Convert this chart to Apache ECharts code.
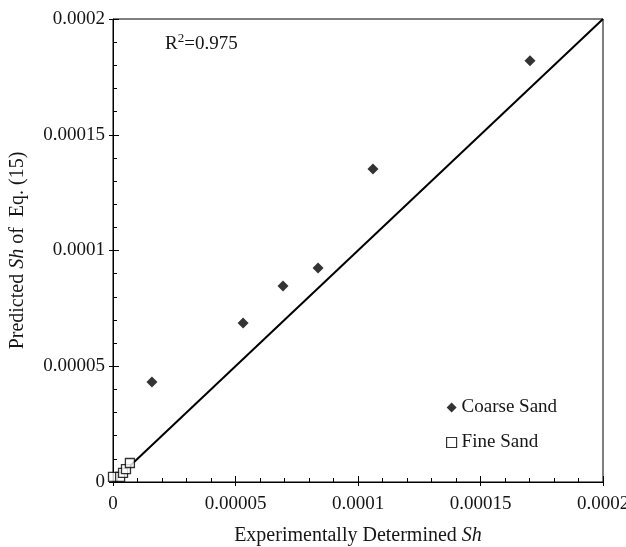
<!DOCTYPE html>
<html lang="en">
<head>
    <meta charset="UTF-8">
    <title>Predicted vs Experimental Sh</title>
    <script src="https://cdn.jsdelivr.net/npm/echarts@6.0.0/dist/echarts.min.js"></script>
    <style>
        html, body { margin: 0; padding: 0; background: #fff; }
        #chart { width: 626px; height: 547px; }
    </style>
</head>
<body>
    <div id="chart"></div>
    <script>
        // data
        const coarseX = [0.0000159, 0.0000531, 0.0000694, 0.0000837, 0.0001061, 0.0001702];
        const coarseY = [0.0000432, 0.0000687, 0.0000847, 0.0000924, 0.0001352, 0.0001820];
        const fineX = [0.0000000, 0.0000029, 0.0000041, 0.0000053, 0.0000069];
        const fineY = [0.0000022, 0.0000022, 0.0000039, 0.0000056, 0.0000082];
        const fitX = [0.000007, 0.0002];
        const fitY = [0.000007, 0.0002];

        const font = '"Liberation Serif", "DejaVu Serif", serif';
        const ink = '#151515';
        const fmt = v => String(+v.toFixed(6));

        const pairs = (xs, ys) => xs.map((x, i) => [x, ys[i]]);

        const chart = echarts.init(document.getElementById('chart'));

        const baseAxis = {
            type: 'value',
            min: 0,
            max: 0.0002,
            interval: 0.00005,
            splitLine: { show: false },
            axisLine: { lineStyle: { color: '#000', width: 1 } }
        };

        const nameRich = {
            a: { fontFamily: font, fontSize: 20, color: ink },
            b: { fontFamily: font, fontSize: 20, color: ink, fontStyle: 'italic' }
        };

        chart.setOption({
            animation: false,
            grid: {
                left: 113, right: 23, top: 19, bottom: 65,
                outerBoundsMode: 'none',
                containLabel: false,
                show: true, borderColor: '#000', borderWidth: 1
            },
            xAxis: [
                Object.assign({}, baseAxis, {
                    position: 'bottom',
                    axisTick: { inside: true, length: 6, lineStyle: { color: '#000' } },
                    minorTick: { show: true, splitNumber: 5, length: 4, lineStyle: { color: '#000' } },
                    axisLabel: { formatter: fmt, color: ink, fontFamily: font, fontSize: 19, margin: 13 },
                    name: '{a|Experimentally Determined }{b|Sh}',
                    nameLocation: 'middle',
                    nameGap: 44,
                    nameTextStyle: { rich: nameRich }
                }),
                Object.assign({}, baseAxis, {
                    position: 'bottom',
                    axisLine: { show: false },
                    axisTick: { inside: false, length: 4, lineStyle: { color: '#000' } },
                    axisLabel: { show: false }
                })
            ],
            yAxis: [
                Object.assign({}, baseAxis, {
                    position: 'left',
                    axisTick: { inside: true, length: 6, lineStyle: { color: '#000' } },
                    minorTick: { show: true, splitNumber: 5, length: 4, lineStyle: { color: '#000' } },
                    axisLabel: { formatter: fmt, color: ink, fontFamily: font, fontSize: 19, margin: 8 },
                    name: '{a|Predicted }{b|Sh}{a| of  Eq. (15)}',
                    nameLocation: 'middle',
                    nameGap: 85,
                    nameTextStyle: { rich: nameRich }
                }),
                Object.assign({}, baseAxis, {
                    position: 'left',
                    axisLine: { show: false },
                    axisTick: { inside: false, length: 4, lineStyle: { color: '#000' } },
                    axisLabel: { show: false }
                })
            ],
            legend: {
                orient: 'vertical',
                left: 441,
                top: 393,
                itemWidth: 10,
                itemHeight: 10,
                itemGap: 16,
                textStyle: { fontFamily: font, fontSize: 19, color: ink },
                data: [
                    { name: 'Coarse Sand', icon: 'diamond' },
                    { name: 'Fine Sand', icon: 'rect', itemStyle: { color: '#fff', borderColor: '#000', borderWidth: 1.2 } }
                ]
            },
            graphic: [{
                type: 'text',
                left: 165,
                top: 32,
                style: {
                    text: '{a|R}{s|2}{a|=0.975}',
                    rich: {
                        a: { fontFamily: font, fontSize: 19, fill: ink, verticalAlign: 'bottom' },
                        s: { fontFamily: font, fontSize: 13, fill: ink, verticalAlign: 'top', padding: [0, 0, 9, 0] }
                    }
                }
            }],
            series: [
                {
                    name: 'Fit',
                    type: 'line',
                    data: pairs(fitX, fitY),
                    showSymbol: false,
                    lineStyle: { color: '#000', width: 2 },
                    z: 1
                },
                {
                    name: 'Coarse Sand',
                    type: 'scatter',
                    symbol: 'diamond',
                    symbolSize: 11,
                    itemStyle: { color: '#000' },
                    data: pairs(coarseX, coarseY),
                    z: 3
                },
                {
                    name: 'Fine Sand',
                    type: 'scatter',
                    symbol: 'rect',
                    symbolSize: 9,
                    itemStyle: { color: '#fff', borderColor: '#000', borderWidth: 1.3 },
                    data: pairs(fineX, fineY),
                    z: 3
                }
            ]
        });
    </script>
</body>
</html>
